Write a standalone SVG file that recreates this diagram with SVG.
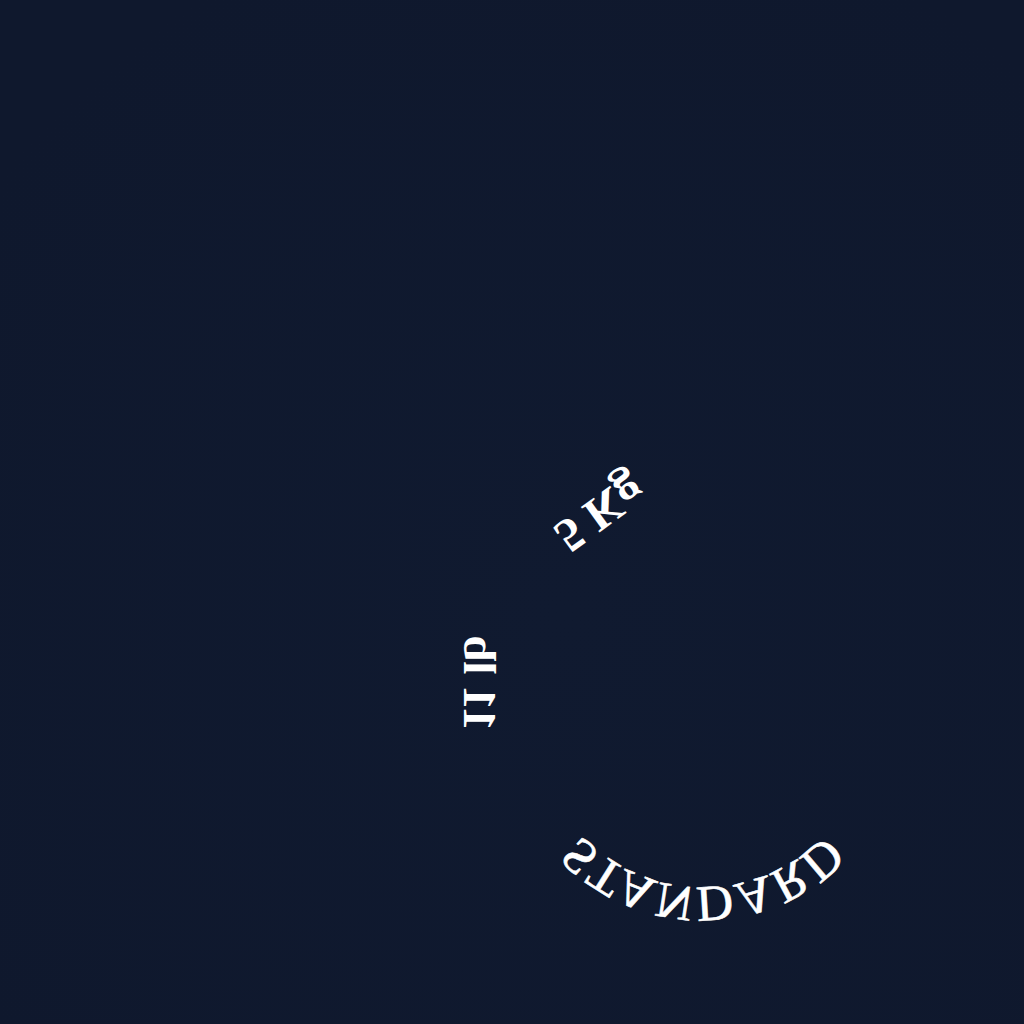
<svg xmlns="http://www.w3.org/2000/svg" xmlns:xlink="http://www.w3.org/1999/xlink" width="1024" height="1024" viewBox="0 0 1024 1024">
<style>
.lbl{font-family:"Liberation Serif","Times New Roman",serif;fill:#ffffff;}
.b{font-weight:bold;}
</style>
<defs>
<path id="arc" d="M 535 305 A 168 168 0 0 1 871 305"/>
<radialGradient id="bg" cx="0.55" cy="0.6" r="0.7">
<stop offset="0" stop-color="#101a30"/>
<stop offset="1" stop-color="#0f182d"/>
</radialGradient>
</defs>
<rect width="1024" height="1024" fill="url(#bg)"/>
<g id="mirrored" transform="matrix(1 0 0 -1 0 1024)">
<g id="kg"><text class="lbl b" font-size="48" text-anchor="middle" transform="translate(600 511) rotate(36)" y="16">5 Kg</text></g>
<g id="lb"><text class="lbl b" font-size="47" text-anchor="middle" transform="translate(480 341) rotate(90)" y="16">11 lb</text></g>
<g id="standard"><text class="lbl" font-size="51" stroke="#ffffff" stroke-width="0.6"><textPath xlink:href="#arc" href="#arc" startOffset="50%" text-anchor="middle">STANDARD</textPath></text></g>
</g>
</svg>
